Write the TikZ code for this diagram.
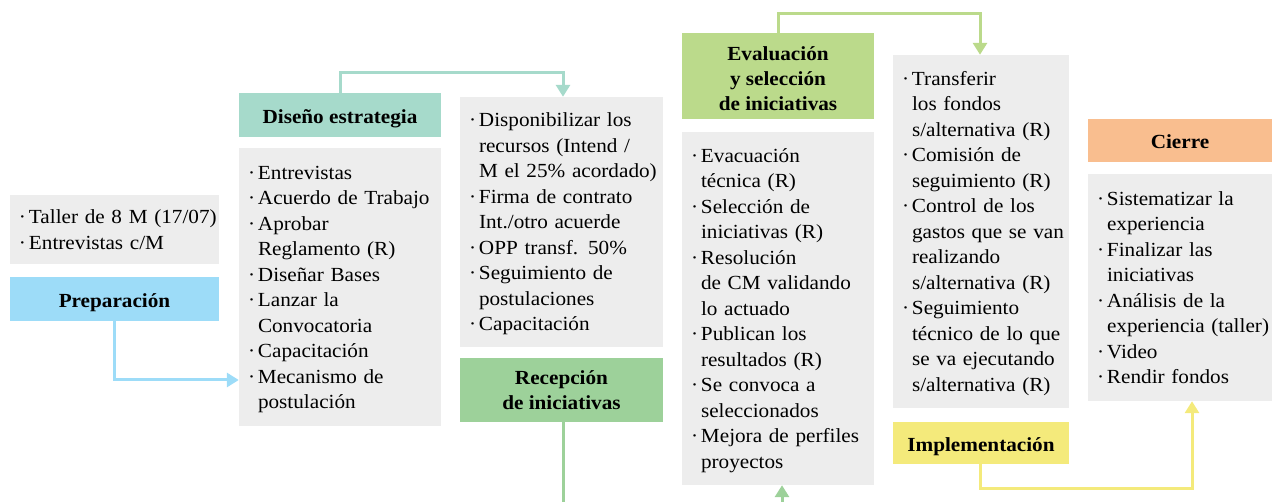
\documentclass[tikz,border=0pt]{standalone}
\usepackage{fontspec}
\setmainfont{Liberation Serif}[FakeStretch=1.06]
\usetikzlibrary{arrows.meta}
\definecolor{grayc}{HTML}{EDEDED}
\definecolor{prepc}{HTML}{9DDCF8}
\definecolor{disc}{HTML}{A6DACB}
\definecolor{recc}{HTML}{9DD19A}
\definecolor{evalc}{HTML}{BBDA8B}
\definecolor{implc}{HTML}{F4EA7B}
\definecolor{cierrec}{HTML}{F9BE8F}
\newcommand\itm[1]{\mbox{\makebox[10pt][l]{·}#1}}
\newcommand\cnt[1]{\mbox{\hspace*{10pt}#1}}
\tikzset{
  gbox/.style={fill=grayc, draw=none, rectangle, inner xsep=9pt, inner ysep=0pt,
    align=left, font=\fontsize{20}{25.5}\selectfont,
    execute at begin node={\rule{0pt}{19pt}},
    execute at end node={\rule[-5pt]{0pt}{5pt}}},
  hbox/.style={draw=none, rectangle, inner sep=0pt, align=center,
    font=\fontsize{20}{25}\selectfont\bfseries},
  oneline/.style={text height=20.4pt, text depth=4pt},
  conn/.style={line width=3pt},
  tip/.style={-{Triangle[length=12pt,width=14pt]}}
}
\begin{document}
\begin{tikzpicture}[x=1pt,y=-1pt]
\useasboundingbox (0,0) rectangle (1272,502);
% Preparacion
\node[gbox, minimum width=209, minimum height=69, text width=191] (taller) at (114.5,229.5)
  {\itm{Taller de 8 M (17/07)}\\\itm{Entrevistas c/M}};
\node[hbox, oneline, fill=prepc, minimum width=209, minimum height=44] (prep) at (114.5,299) {Preparación};
% Diseno
\node[hbox, oneline, fill=disc, minimum width=202, minimum height=44] (dish) at (340,115) {Diseño estrategia};
\node[gbox, minimum width=202, minimum height=278, text width=184] (disb) at (340,287)
  {\itm{Entrevistas}\\\itm{Acuerdo de Trabajo}\\\itm{Aprobar}\\\cnt{Reglamento (R)}\\
   \itm{Diseñar Bases}\\\itm{Lanzar la}\\\cnt{Convocatoria}\\\itm{Capacitación}\\
   \itm{Mecanismo de}\\\cnt{postulación}};
% Recepcion
\node[gbox, minimum width=203, minimum height=250, text width=185] (dispb) at (561.5,222)
  {\itm{Disponibilizar los}\\\cnt{recursos (Intend /}\\\cnt{M el 25\% acordado)}\\
   \itm{Firma de contrato}\\\cnt{Int./otro acuerde}\\\itm{OPP transf. 50\%}\\
   \itm{Seguimiento de}\\\cnt{postulaciones}\\\itm{Capacitación}};
\node[hbox, fill=recc, minimum width=203, minimum height=64] (rech) at (561.5,390)
  {Recepción\\de iniciativas};
% Evaluacion
\node[hbox, fill=evalc, minimum width=192, minimum height=86] (evh) at (778,76)
  {\rule{0pt}{19pt}Evaluación\\y selección\\de iniciativas};
\node[gbox, minimum width=192, minimum height=353, text width=174] (evb) at (778,308.5)
  {\itm{Evacuación}\\\cnt{técnica (R)}\\\itm{Selección de}\\\cnt{iniciativas (R)}\\
   \itm{Resolución}\\\cnt{de CM validando}\\\cnt{lo actuado}\\\itm{Publican los}\\
   \cnt{resultados (R)}\\\itm{Se convoca a}\\\cnt{seleccionados}\\
   \itm{Mejora de perfiles}\\\cnt{proyectos}};
% Implementacion
\node[gbox, minimum width=176, minimum height=353, text width=158] (imb) at (981,231.5)
  {\itm{Transferir}\\\cnt{los fondos}\\\cnt{s/alternativa (R)}\\\itm{Comisión de}\\
   \cnt{seguimiento (R)}\\\itm{Control de los}\\\cnt{gastos que se van}\\
   \cnt{realizando}\\\cnt{s/alternativa (R)}\\\itm{Seguimiento}\\
   \cnt{técnico de lo que}\\\cnt{se va ejecutando}\\\cnt{s/alternativa (R)}};
\node[hbox, oneline, fill=implc, minimum width=176, minimum height=42] (imh) at (981,443) {Implementación};
% Cierre
\node[hbox, oneline, fill=cierrec, minimum width=184, minimum height=43] (cih) at (1180,140.5) {Cierre};
\node[gbox, minimum width=184, minimum height=227, text width=166] (cib) at (1180,287.5)
  {\itm{Sistematizar la}\\\cnt{experiencia}\\\itm{Finalizar las}\\\cnt{iniciativas}\\
   \itm{Análisis de la}\\\cnt{experiencia (taller)}\\\itm{Video}\\\itm{Rendir fondos}};
% connectors
\draw[conn, tip, prepc] (prep.south) |- ([yshift=-93pt]disb.west);
\draw[conn, tip, disc] (dish.north) -- ++(0,-20) -| ([xshift=1.5pt]dispb.north);
\draw[conn, tip, recc] ([xshift=1.5pt]rech.south) -- ++(0,110) -| ([xshift=4pt]evb.south);
\draw[conn, tip, evalc] (evh.north) -- ++(0,-19) -| ([xshift=-1pt]imb.north);
\draw[conn, tip, implc] ([xshift=-1pt]imh.south) -- ++(0,24) -| ([xshift=12pt]cib.south);
\end{tikzpicture}
\end{document}
